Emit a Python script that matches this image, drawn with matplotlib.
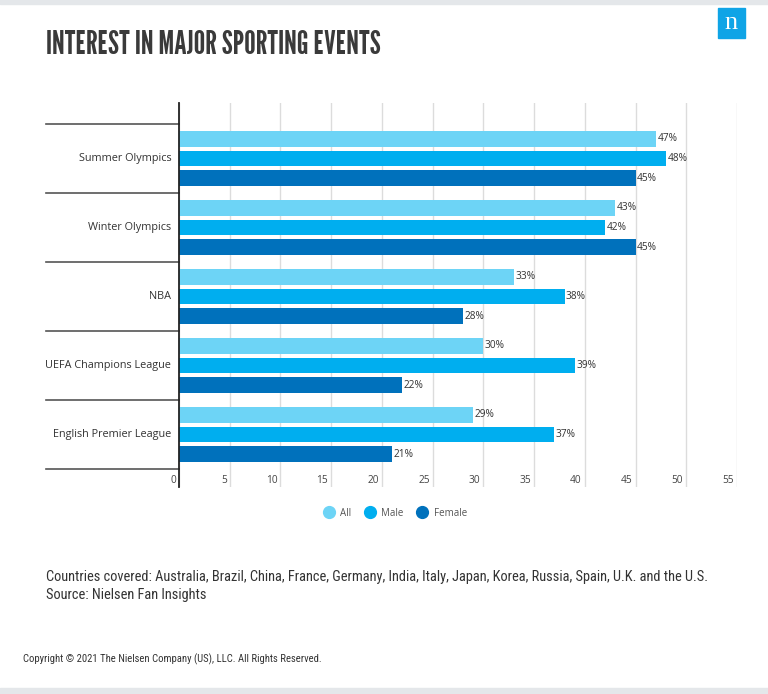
import matplotlib
matplotlib.use("Agg")
import matplotlib.pyplot as plt
import numpy as np
from matplotlib.patches import Rectangle
from matplotlib.lines import Line2D
import matplotlib.transforms as mtransforms

categories = ["Summer Olympics", "Winter Olympics", "NBA", "UEFA Champions League", "English Premier League"]
series_names = ["All", "Male", "Female"]
all_vals = [47, 43, 33, 30, 29]
male_vals = [48, 42, 38, 39, 37]
female_vals = [45, 45, 28, 22, 21]
x_ticks = [0, 5, 10, 15, 20, 25, 30, 35, 40, 45, 50, 55]
colors = ["#6dd4f6", "#00aeef", "#0071bc"]

W, H = 768, 694
fig = plt.figure(figsize=(W / 100, H / 100), dpi=100)
fig.patch.set_facecolor("white")

FONT = ["Open Sans", "DejaVu Sans"]
COND = ["Roboto Condensed", "Open Sans", "DejaVu Sans"]

def fx(px):
    return px / W

def fy(py):
    return 1 - py / H

# top and bottom gray bands
fig.patches.append(Rectangle((0, fy(4)), 1, 4 / H, transform=fig.transFigure, color="#e4e7ea", zorder=0))
fig.patches.append(Rectangle((0, 0), 1, 6 / H, transform=fig.transFigure, color="#e4e7ea", zorder=0))

# logo
fig.patches.append(Rectangle((fx(718), fy(38)), 27 / W, 30 / H, transform=fig.transFigure, color="#0fa4e6", zorder=1))
fig.text(fx(731.5), fy(23), "n", color="white", fontsize=19, family=["Liberation Serif", "DejaVu Serif"],
         ha="center", va="center", zorder=2)

# title
fig.text(fx(46), fy(54), "INTEREST IN MAJOR SPORTING EVENTS", fontsize=23.3, color="#3a3a3a",
         family=["League Gothic", "Bebas Neue", "DejaVu Sans"], ha="left", va="baseline")

ax = fig.add_axes([fx(179), fy(487), (737 - 179) / W, (487 - 103) / H])
ax.set_xlim(0, 55)
ax.set_ylim(4.761, -0.804)

y = np.arange(len(categories))
off = 0.283
bh = 0.228
for i, (vals, c) in enumerate(zip([all_vals, male_vals, female_vals], colors)):
    pos = y + (i - 1) * off
    ax.barh(pos, vals, height=bh, color=c, zorder=3, label=series_names[i])
    for p, v in zip(pos, vals):
        ax.annotate(f"{v}%", (v, p), xytext=(1.5, 0), textcoords="offset pixels", ha="left", va="center",
                    fontsize=7.3, color="#333333", family=FONT)

for s in ["top", "right", "bottom"]:
    ax.spines[s].set_visible(False)
ax.spines["left"].set_color("#222222")
ax.spines["left"].set_linewidth(1.3)
ax.spines["left"].set_zorder(5)

ax.set_xticks(x_ticks)
ax.set_xticklabels([])
ax.tick_params(axis="x", length=0)
ax.set_yticks([])
ax.grid(axis="x", color="#dcdcdc", linewidth=1, zorder=0)
ax.set_axisbelow(True)

# tick labels inside axes bottom
for t in x_ticks:
    ax.annotate(str(t), (t, 0.018), xycoords=("data", "axes fraction"), xytext=(-3, 0),
                textcoords="offset pixels", ha="right", va="center", fontsize=7.3, color="#444444", family=FONT)

# category separators and labels
sep_x0 = (46 - 179) / 558
trans = mtransforms.blended_transform_factory(ax.transAxes, ax.transData)
for b in np.arange(-0.5, len(categories), 1.0):
    ax.add_line(Line2D([sep_x0, 0], [b, b], transform=trans, color="#555555", linewidth=1.2, clip_on=False))
for yy, c in zip(y, categories):
    ax.text(-0.014, yy, c, transform=trans, ha="right", va="center", fontsize=7.85, color="#333333", family=FONT)

# legend
leg = fig.legend(handles=[Line2D([], [], marker="o", linestyle="", markersize=8.5, color=c) for c in colors],
                 labels=series_names, loc="center", bbox_to_anchor=(fx(393), fy(513)), ncol=3, frameon=False,
                 prop={"family": FONT, "size": 7}, handletextpad=0.2, columnspacing=0.9, labelcolor="#555555")

fig.text(fx(46), fy(577), "Countries covered: Australia, Brazil, China, France, Germany, India, Italy, Japan, Korea, Russia, Spain, U.K. and the U.S.",
         fontsize=10.35, color="#333333", family=COND, ha="left", va="center")
fig.text(fx(46), fy(595), "Source: Nielsen Fan Insights", fontsize=10.35, color="#333333",
         family=COND, ha="left", va="center")
fig.text(fx(23), fy(659), "Copyright \u00a9 2021 The Nielsen Company (US), LLC. All Rights Reserved.", fontsize=7.65,
         color="#333333", family=COND, ha="left", va="center")

fig.savefig("out.png", dpi=100, facecolor="white")
